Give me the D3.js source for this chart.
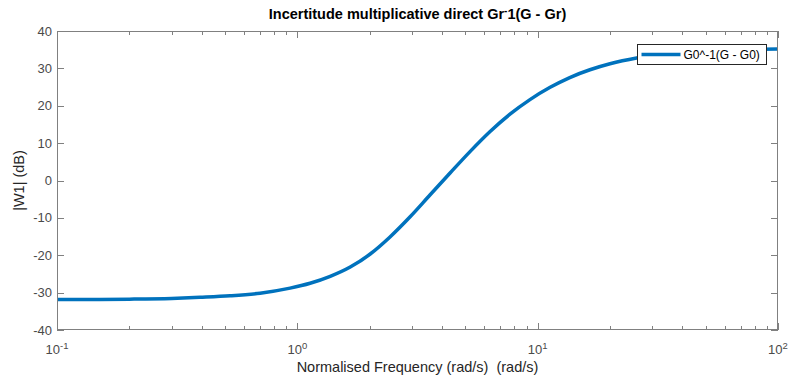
<!DOCTYPE html>
<html>
<head>
<meta charset="utf-8">
<script src="https://cdn.jsdelivr.net/npm/d3@7/dist/d3.min.js"></script>
<style>
  html, body { margin: 0; padding: 0; background: #fff; }
  svg { display: block; font-family: "Liberation Sans", Arial, Helvetica, sans-serif; }
  text { white-space: pre; }
</style>
</head>
<body>
<svg id="chart" width="788" height="376"></svg>
<script>
// Frequency (rad/s) and magnitude (dB) of the multiplicative uncertainty weight
const freq = [0.1, 0.15, 0.2, 0.3, 0.394, 0.525, 0.70, 0.933, 1.13, 1.37, 1.66, 2.01, 2.43, 2.94, 3.57, 4.32, 5.23, 6.34, 7.67, 9.29, 11.27, 13.6, 16.5, 20.0, 25.8, 35, 50, 70, 100];
const magDb = [-31.85, -31.82, -31.75, -31.55, -31.25, -30.85, -30.15, -28.8, -27.5, -25.65, -23.16, -19.67, -15.1, -9.77, -3.82, 2.0, 7.73, 13.1, 17.75, 21.65, 24.93, 27.55, 29.63, 31.23, 32.78, 34.0, 34.75, 35.05, 35.2];

const yTicks = [-40, -30, -20, -10, 0, 10, 20, 30, 40];
const xMajor = [0.1, 1, 10, 100];
const xExponents = ["-1", "0", "1", "2"];

const titleMain = "Incertitude multiplicative direct Gr";
const titleSup = "-";
const titleRest = "1(G - Gr)";
const xLabel = "Normalised Frequency (rad/s)  (rad/s)";
const yLabel = "|W1| (dB)";
const legendLabel = "G0^-1(G - G0)";

const svg = d3.select("#chart");
const L = 57, R = 778, T = 31, B = 330;

const x = d3.scaleLog().domain([0.1, 100]).range([L, R]);
const y = d3.scaleLinear().domain([-40, 40]).range([B, T]);

const axisCol = "#808080";
const textCol = "#4a4a4a";

// minor decade ticks
const xMinor = [];
for (let d = 0.1; d < 100; d *= 10) {
  for (let k = 2; k <= 9; k++) xMinor.push(+(d * k).toPrecision(3));
}

const g = svg.append("g");

// curve
const line = d3.line()
  .x(d => x(d[0]))
  .y(d => y(d[1]))
  .curve(d3.curveMonotoneX);

svg.append("defs").append("clipPath").attr("id", "clip")
  .append("rect").attr("x", L).attr("y", T).attr("width", R - L).attr("height", B - T);

g.append("path")
  .datum(freq.map((f, i) => [f, magDb[i]]))
  .attr("d", line)
  .attr("fill", "none")
  .attr("stroke", "#0072BD")
  .attr("stroke-width", 3.5)
  .attr("clip-path", "url(#clip)");

// box
g.append("rect")
  .attr("x", L + 0.5).attr("y", T + 0.5)
  .attr("width", R - L - 1).attr("height", B - T - 1)
  .attr("fill", "none").attr("stroke", axisCol).attr("stroke-width", 1);

// ticks (inward, on all four sides)
const ticks = g.append("g").attr("stroke", axisCol).attr("stroke-width", 1);
xMajor.forEach(v => {
  const px = Math.round(x(v)) + 0.5;
  ticks.append("line").attr("x1", px).attr("x2", px).attr("y1", B).attr("y2", B - 7);
  ticks.append("line").attr("x1", px).attr("x2", px).attr("y1", T).attr("y2", T + 7);
});
xMinor.forEach(v => {
  const px = Math.round(x(v)) + 0.5;
  ticks.append("line").attr("x1", px).attr("x2", px).attr("y1", B).attr("y2", B - 4);
  ticks.append("line").attr("x1", px).attr("x2", px).attr("y1", T).attr("y2", T + 4);
});
yTicks.forEach(v => {
  const py = Math.round(y(v)) + 0.5;
  ticks.append("line").attr("x1", L).attr("x2", L + 7).attr("y1", py).attr("y2", py);
  ticks.append("line").attr("x1", R).attr("x2", R - 7).attr("y1", py).attr("y2", py);
});

// y tick labels
g.append("g").selectAll("text").data(yTicks).join("text")
  .attr("x", L - 5)
  .attr("y", d => y(d) + 4.5)
  .attr("text-anchor", "end")
  .attr("font-size", 13)
  .attr("fill", textCol)
  .text(d => d);

// x tick labels: 10 with superscript exponent
const xl = g.append("g");
xMajor.forEach((v, i) => {
  const t = xl.append("text")
    .attr("x", x(v))
    .attr("y", 354)
    .attr("text-anchor", "middle")
    .attr("font-size", 13)
    .attr("fill", textCol);
  t.append("tspan").text("10");
  t.append("tspan").attr("dy", -5).attr("font-size", 9.5).text(xExponents[i]);
});

// axis labels
g.append("text")
  .attr("x", (L + R) / 2).attr("y", 372)
  .attr("text-anchor", "middle")
  .attr("font-size", 14.5)
  .attr("fill", "#262626")
  .text(xLabel);

g.append("text")
  .attr("transform", `translate(24,${(T + B) / 2}) rotate(-90)`)
  .attr("text-anchor", "middle")
  .attr("font-size", 14.5)
  .attr("fill", "#262626")
  .text(yLabel);

// title
const title = g.append("text")
  .attr("x", (L + R) / 2).attr("y", 19)
  .attr("text-anchor", "middle")
  .attr("font-size", 14.5)
  .attr("font-weight", "bold")
  .attr("fill", "#000");
title.append("tspan").text(titleMain);
title.append("tspan").attr("dy", -5).attr("font-size", 10).text(titleSup);
title.append("tspan").attr("dy", 5).text(titleRest);

// legend
const lg = g.append("g").attr("transform", "translate(637.5,44.5)");
lg.append("rect").attr("width", 129).attr("height", 20)
  .attr("fill", "#fff").attr("stroke", "#262626").attr("stroke-width", 1);
lg.append("line").attr("x1", 4).attr("x2", 43).attr("y1", 10).attr("y2", 10)
  .attr("stroke", "#0072BD").attr("stroke-width", 3.5);
lg.append("text").attr("x", 46).attr("y", 14.5)
  .attr("font-size", 12).attr("fill", "#000")
  .text(legendLabel);
</script>
</body>
</html>
